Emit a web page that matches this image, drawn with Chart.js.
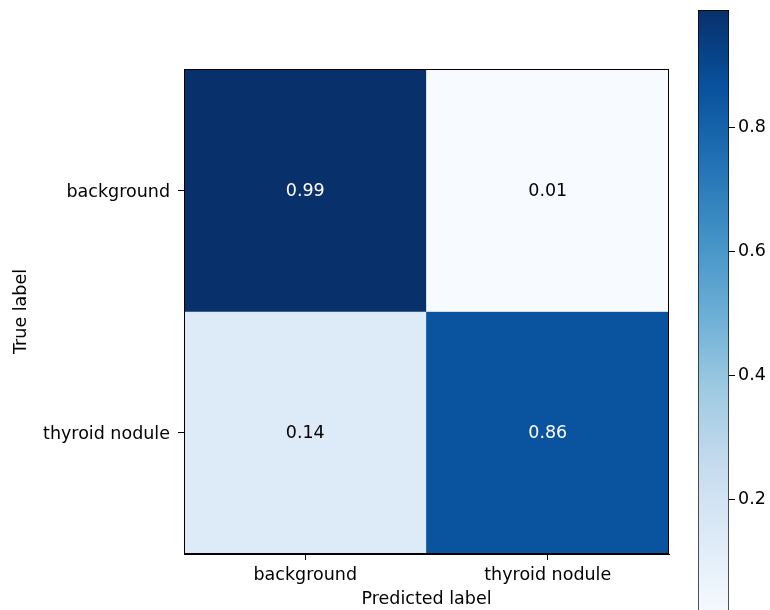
<!DOCTYPE html>
<html>
<head>
<meta charset="utf-8">
<script src="https://cdn.jsdelivr.net/npm/chart.js@4.4.1/dist/chart.umd.min.js"></script>
<style>
  html, body { margin: 0; padding: 0; background: #fff; overflow: hidden; }
  #wrap { position: relative; width: 770px; height: 610px; overflow: hidden; }
  #cm { position: absolute; left: 0; top: 0; }
  #cbar { position: absolute; left: 690px; top: 0; }
</style>
</head>
<body>
<div id="wrap">
  <canvas id="cm" width="690" height="610"></canvas>
  <canvas id="cbar" width="80" height="630"></canvas>
</div>
<script>
// Class names shared by both axes
const classLabels = ['background', 'thyroid nodule'];
// Normalised confusion matrix: rows = true label, columns = predicted label
const rowBackground = [0.99, 0.01];
const rowNodule = [0.14, 0.86];
const matrix = [rowBackground, rowNodule];
// Colour-bar tick values
const colorbarTicks = [0.2, 0.4, 0.6, 0.8];

const FONT = 'DejaVu Sans';
const vmin = Math.min(...matrix.flat());
const vmax = Math.max(...matrix.flat());

// Matplotlib "Blues" colour map stops
const blues = ['#f7fbff', '#deebf7', '#c6dbef', '#9ecae1', '#6baed6',
               '#4292c6', '#2171b5', '#08519c', '#08306b'];
function hexToRgb(h) {
  return [parseInt(h.slice(1, 3), 16), parseInt(h.slice(3, 5), 16), parseInt(h.slice(5, 7), 16)];
}
function bluesAt(t) {
  t = Math.max(0, Math.min(1, t));
  const p = t * (blues.length - 1);
  const i = Math.min(Math.floor(p), blues.length - 2);
  const f = p - i;
  const a = hexToRgb(blues[i]), b = hexToRgb(blues[i + 1]);
  const c = a.map((v, k) => Math.round(v + (b[k] - v) * f));
  return `rgb(${c[0]},${c[1]},${c[2]})`;
}
function colorFor(v) { return bluesAt((v - vmin) / (vmax - vmin)); }

// One floating-bar dataset per matrix row; each bar spans [row, row + 1]
const datasets = matrix.map((row, r) => ({
  label: classLabels[r],
  data: row.map(() => [r, r + 1]),
  backgroundColor: row.map(colorFor),
  borderWidth: 0,
  grouped: false,
  barPercentage: 1,
  categoryPercentage: 1
}));

// Cell values written at the centre of every cell
const cellText = {
  id: 'cellText',
  afterDatasetsDraw(chart) {
    const { ctx, scales: { x, y } } = chart;
    const thresh = vmax / 2;
    ctx.save();
    ctx.font = `17.5px "${FONT}"`;
    ctx.textAlign = 'center';
    ctx.textBaseline = 'middle';
    matrix.forEach((row, r) => {
      row.forEach((v, c) => {
        ctx.fillStyle = v > thresh ? '#ffffff' : '#000000';
        ctx.fillText(v.toFixed(2), x.getPixelForValue(c), y.getPixelForValue(r + 0.5) + 1);
      });
    });
    ctx.restore();
  }
};

// Black frame around the plotting area
const frame = {
  id: 'frame',
  afterDraw(chart) {
    const { ctx, chartArea: a } = chart;
    ctx.save();
    ctx.strokeStyle = '#000';
    ctx.lineWidth = 1;
    ctx.strokeRect(Math.round(a.left) + 0.5, Math.round(a.top) + 0.5,
                   Math.round(a.right - a.left) - 1, Math.round(a.bottom - a.top) - 1);
    ctx.restore();
  }
};

new Chart(document.getElementById('cm'), {
  type: 'bar',
  data: { labels: classLabels, datasets },
  options: {
    responsive: false,
    animation: false,
    layout: { padding: { top: 69, right: 21, bottom: 0, left: 0 } },
    plugins: { legend: { display: false }, tooltip: { enabled: false } },
    scales: {
      x: {
        type: 'category',
        offset: true,
        grid: { display: true, drawOnChartArea: false, drawTicks: true, tickLength: 6, color: '#000', offset: false },
        border: { display: true, color: '#000', width: 1 },
        ticks: { color: '#000', font: { family: FONT, size: 17.5 }, padding: 5, maxRotation: 0 },
        title: { display: true, text: 'Predicted label', color: '#000', font: { family: FONT, size: 17.5 }, padding: { top: 0, bottom: 0 } },
        afterFit(scale) { scale.height = 56; }
      },
      y: {
        type: 'linear',
        min: 0,
        max: matrix.length,
        reverse: true,
        afterBuildTicks(scale) { scale.ticks = classLabels.map((_, i) => ({ value: i + 0.5 })); },
        grid: { display: true, drawOnChartArea: false, drawTicks: true, tickLength: 6, color: '#000' },
        border: { display: true, color: '#000', width: 1 },
        ticks: {
          color: '#000', font: { family: FONT, size: 17.5 }, padding: 8, labelOffset: 2,
          callback: (v) => classLabels[Math.floor(v)]
        },
        title: { display: true, text: 'True label', color: '#000', font: { family: FONT, size: 17.5 }, padding: { top: 11, bottom: 0 } },
        afterFit(scale) { scale.width = 184; }
      }
    }
  },
  plugins: [cellText, frame]
});

// Colour bar: a single floating bar from vmin to vmax filled with the Blues gradient
new Chart(document.getElementById('cbar'), {
  type: 'bar',
  data: {
    labels: [''],
    datasets: [{
      data: [[vmin, vmax]],
      backgroundColor(context) {
        const chart = context.chart;
        const y = chart.scales.y;
        if (!y || !chart.chartArea) return blues[0];
        const y0 = y.getPixelForValue(vmin), y1 = y.getPixelForValue(vmax);
        if (!isFinite(y0) || !isFinite(y1)) return blues[0];
        const g = chart.ctx.createLinearGradient(0, y0, 0, y1);
        blues.forEach((c, i) => g.addColorStop(i / (blues.length - 1), c));
        return g;
      },
      borderColor: '#000',
      borderWidth: 1,
      borderSkipped: false,
      barPercentage: 1,
      categoryPercentage: 1
    }]
  },
  options: {
    responsive: false,
    animation: false,
    layout: { padding: { top: 10, right: 0, bottom: 13, left: 8 } },
    plugins: { legend: { display: false }, tooltip: { enabled: false } },
    scales: {
      x: { display: false },
      y: {
        type: 'linear',
        position: 'right',
        min: vmin,
        max: vmax,
        afterBuildTicks(scale) { scale.ticks = colorbarTicks.map(v => ({ value: v })); },
        grid: { display: true, drawOnChartArea: false, drawTicks: true, tickLength: 6, color: '#000' },
        border: { display: false },
        ticks: { color: '#000', font: { family: FONT, size: 17.5 }, padding: 3, callback: (v) => v.toFixed(1) },
        afterFit(scale) {
          scale.width = 41;
          scale.paddingTop = 0;
          scale.paddingBottom = 0;
        }
      }
    }
  }
});
</script>
</body>
</html>
